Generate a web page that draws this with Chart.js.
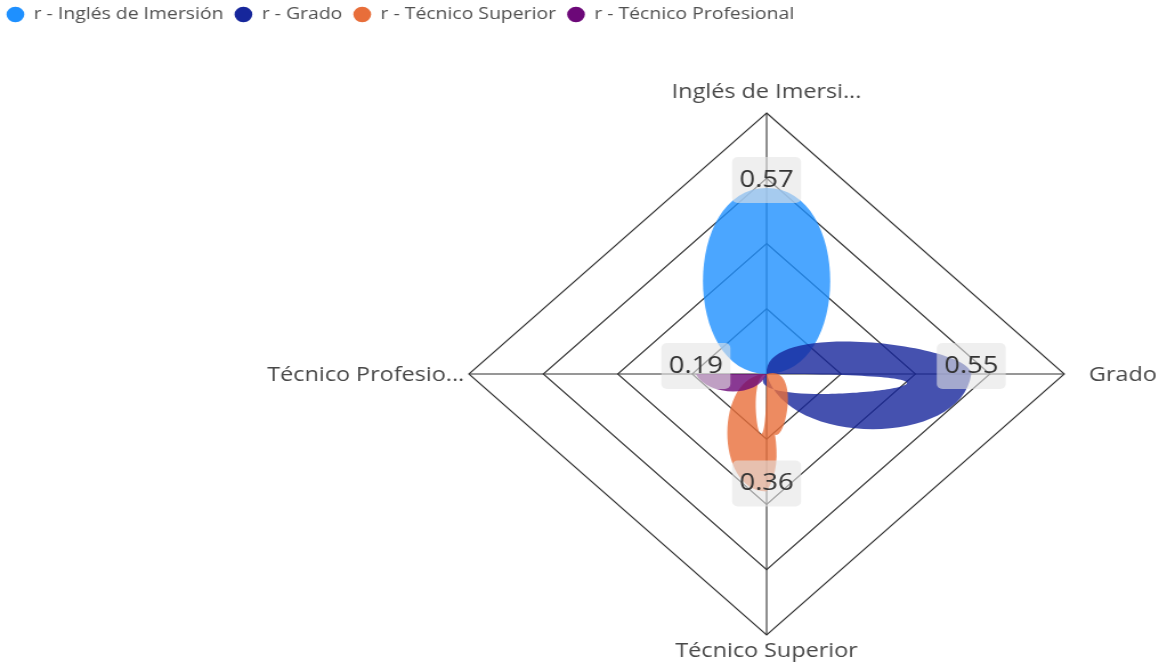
<!DOCTYPE html>
<html lang="es">
<head>
<meta charset="utf-8">
<title>r por modalidad</title>
<script src="https://cdn.jsdelivr.net/npm/chart.js"></script>
<style>
  html, body { margin: 0; padding: 0; background: #ffffff; overflow: hidden; }
</style>
</head>
<body>
<!-- the picture is a horizontally stretched render, so the canvas is drawn narrower and stretched by CSS -->
<canvas id="radarChart" width="1016" height="666" style="width:1159px;height:666px;"></canvas>
<script>
const categories = ["Inglés de Imersión", "Grado", "Técnico Superior", "Técnico Profesional"];
const seriesLabels = ["r - Inglés de Imersión", "r - Grado", "r - Técnico Superior", "r - Técnico Profesional"];
const inglesValues = [0.57, 0, 0, 0];
const gradoValues = [0, 0.55, 0, 0];
const superiorValues = [0, 0, 0.36, 0];
const profesionalValues = [0, 0, 0, 0.19];
const tickValues = [0, 0.2, 0.4, 0.6, 0.8];

const seriesValues = [inglesValues, gradoValues, superiorValues, profesionalValues];
const solidColors = ["rgb(30,144,255)", "rgb(22,38,155)", "rgb(232,110,58)", "rgb(108,8,120)"];
const fillColors = ["rgba(30,144,255,0.8)", "rgba(22,38,155,0.8)", "rgba(232,110,58,0.8)", "rgba(108,8,120,0.8)"];

// petal outlines: control points as [along axis, across axis] in fractions of the petal length
const petalShapes = [
  { in: [[0, -0.40], [0, -0.40]], out: [[0, 0.40], [0, 0.40]], loops: [] },
  { in: [[-0.02, -0.31], [0, -0.16]], out: [[-0.05, 0.41], [0.10, 0.41]], loops: [[[-0.22, 0.25], [1.65, 0]]] },
  { in: [[0.35, 0], [-0.30, -0.17]], out: [[0, 0.39], [0, 0.39]], loops: [[[0, 0.18], [1.15, 0]], [[-0.13, -0.36], [1.23, 0]]] },
  { in: [[0.14, -0.40], [-0.155, -0.35]], out: [[-0.3, 0], [0.3, 0]], loops: [] }
];

// gap between the outer ring and each axis title
const labelGaps = [14.7, 21.5, 22, 4];

Chart.defaults.font.family = '"Open Sans", "Noto Sans", sans-serif';

const petalPlugin = {
  id: "petals",
  beforeDatasetsDraw(chart) {
    const sc = chart.scales.r;
    const c = { x: sc.xCenter, y: sc.yCenter };
    chart.data.datasets.forEach((ds, di) => {
      const meta = chart.getDatasetMeta(di);
      const pts = meta.data;
      const n = pts.length;
      const k = ds.data.findIndex(v => v > 0);
      const tip = pts[k];
      const dx = tip.x - c.x, dy = tip.y - c.y;
      const len = Math.hypot(dx, dy);
      const ux = dx / len, uy = dy / len;
      const vx = -uy, vy = ux;
      const at = (base, f) => ({
        x: base.x + (f[0] * ux + f[1] * vx) * len,
        y: base.y + (f[0] * uy + f[1] * vy) * len
      });
      const set = (p, which, q) => { p["cp" + which + "x"] = q.x; p["cp" + which + "y"] = q.y; };
      const shape = petalShapes[di];
      const zero = [[0, 0], [0, 0]];
      const la = shape.loops[0] || zero;
      const lb = shape.loops[1] || zero;
      const prev = pts[(k + n - 1) % n], next = pts[(k + 1) % n], opp = pts[(k + 2) % n];
      set(prev, 2, at(c, shape.in[0]));
      set(tip, 1, at(tip, shape.in[1]));
      set(tip, 2, at(tip, shape.out[0]));
      set(next, 1, at(c, shape.out[1]));
      set(next, 2, at(c, la[0]));
      set(opp, 1, at(c, la[1]));
      set(opp, 2, at(c, lb[0]));
      set(prev, 1, at(c, lb[1]));
      meta.dataset._pointsUpdated = true;
      meta.dataset._path = undefined;
    });
  }
};

const valueLabelPlugin = {
  id: "valueLabels",
  afterDatasetsDraw(chart) {
    const ctx = chart.ctx;
    ctx.save();
    ctx.font = '24px "Open Sans", sans-serif';
    ctx.textAlign = "center";
    ctx.textBaseline = "middle";
    chart.data.datasets.forEach((ds, di) => {
      const k = ds.data.findIndex(v => v > 0);
      const p = chart.getDatasetMeta(di).data[k];
      const text = ds.data[k].toFixed(2);
      const w = ctx.measureText(text).width + 13;
      const h = 46;
      const y = p.y - 8;
      ctx.fillStyle = "rgba(228,228,228,0.6)";
      ctx.beginPath();
      ctx.roundRect(p.x - w / 2, y - h / 2, w, h, 5);
      ctx.fill();
      ctx.fillStyle = "#333333";
      ctx.fillText(text, p.x, y);
    });
    ctx.restore();
  }
};

const axisTitlePlugin = {
  id: "axisTitles",
  afterDraw(chart) {
    const sc = chart.scales.r;
    const ctx = chart.ctx;
    ctx.save();
    ctx.font = '20.5px "Open Sans", sans-serif';
    ctx.fillStyle = "#484848";
    ctx.textBaseline = "alphabetic";
    categories.forEach((name, i) => {
      const text = name.length > 16 ? name.slice(0, 16) + "..." : name;
      const p = sc.getPointPosition(i, sc.drawingArea + labelGaps[i]);
      if (i === 0 || i === 2) {
        ctx.textAlign = "center";
        ctx.fillText(text, p.x, p.y);
      } else {
        ctx.textAlign = i === 1 ? "left" : "right";
        ctx.fillText(text, p.x, p.y + 7);
      }
    });
    ctx.restore();
  }
};

new Chart(document.getElementById("radarChart"), {
  type: "radar",
  data: {
    labels: categories,
    datasets: seriesValues.map((vals, i) => ({
      label: seriesLabels[i],
      data: vals,
      order: 4 - i,
      fill: "shape",
      backgroundColor: fillColors[i],
      borderColor: solidColors[i],
      borderWidth: 0,
      tension: 0.3,
      pointRadius: 0,
      pointHoverRadius: 0,
      pointBorderWidth: 0,
      pointBackgroundColor: solidColors[i],
      pointStyle: "circle"
    }))
  },
  options: {
    responsive: false,
    devicePixelRatio: 1,
    animation: false,
    events: [],
    layout: { padding: { top: -4, left: -4 } },
    plugins: {
      tooltip: { enabled: false },
      legend: {
        position: "top",
        align: "start",
        labels: {
          usePointStyle: true,
          pointStyle: "circle",
          boxWidth: 15,
          boxHeight: 11,
          padding: 10,
          color: "#505050",
          font: { size: 17 },
          sort: (a, b) => a.datasetIndex - b.datasetIndex
        }
      }
    },
    scales: {
      r: {
        min: tickValues[0],
        max: tickValues[tickValues.length - 1],
        ticks: { display: false, stepSize: tickValues[1] - tickValues[0] },
        grid: { color: "#303030", lineWidth: 1.1 },
        angleLines: { color: "#303030", lineWidth: 1.1 },
        pointLabels: { display: false },
        afterFit: (s) => { s.xCenter = 672; s.yCenter = 374; s.drawingArea = 261; }
      }
    }
  },
  plugins: [petalPlugin, valueLabelPlugin, axisTitlePlugin]
});
</script>
</body>
</html>
